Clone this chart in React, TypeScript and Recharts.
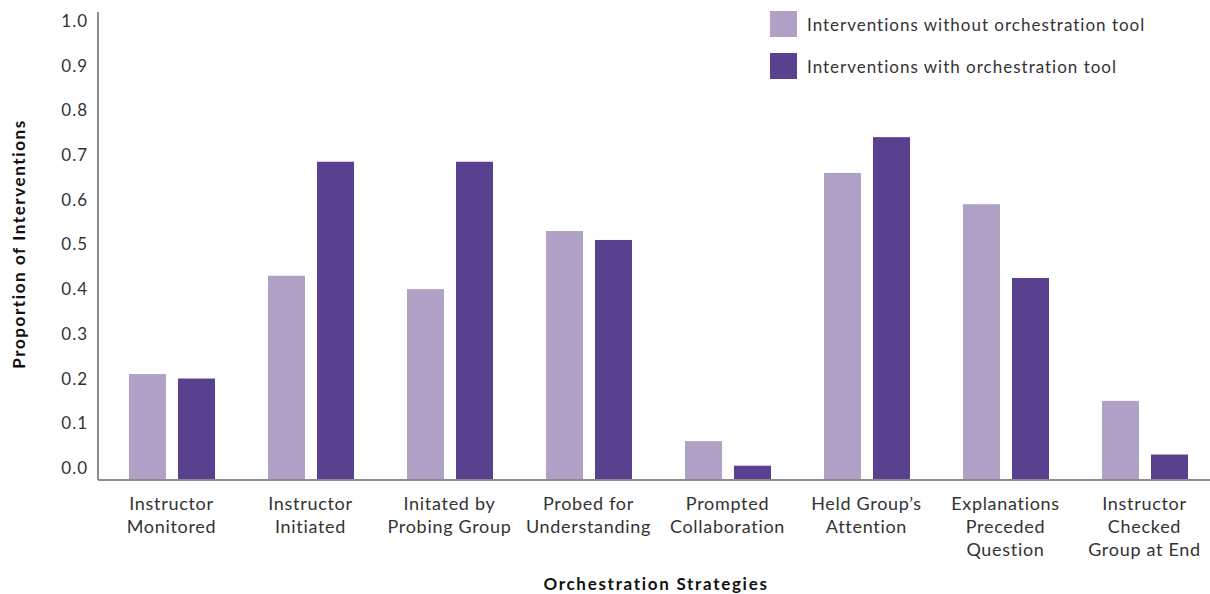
import { BarChart, Bar, XAxis, YAxis, Label } from 'recharts';

// Category labels; "\n" marks a line break on the axis
const strategies = [
  'Instructor\nMonitored',
  'Instructor\nInitiated',
  'Initated by\nProbing Group',
  'Probed for\nUnderstanding',
  'Prompted\nCollaboration',
  'Held Group’s\nAttention',
  'Explanations\nPreceded\nQuestion',
  'Instructor\nChecked\nGroup at End',
];

const withoutTool = [0.21, 0.43, 0.40, 0.53, 0.06, 0.66, 0.59, 0.15];
const withTool = [0.20, 0.685, 0.685, 0.51, 0.005, 0.74, 0.425, 0.03];

const yTicks = [0, 0.1, 0.2, 0.3, 0.4, 0.5, 0.6, 0.7, 0.8, 0.9, 1.0];

const seriesNames = [
  'Interventions without orchestration tool',
  'Interventions with orchestration tool',
];

const LIGHT = '#b0a1c7';
const DARK = '#5a418f';
const TEXT = '#333333';
const AXIS = '#8c8c8c';
const FONT = 'Lato, "Open Sans", sans-serif';

const CHART_W = 1214;
const CHART_H = 594;
const MARGIN = { top: 12, right: 0, bottom: 0, left: 38 };
const X_AXIS_H = 114;
const PLOT_BOTTOM = CHART_H - MARGIN.bottom - X_AXIS_H;

const data = strategies.map((strategy, i) => ({
  strategy,
  without: withoutTool[i],
  with: withTool[i],
}));

// bars run from their value down to the axis line, which sits a little below zero
const AxisBar = (props: any) => {
  const { x, y, width, fill, background } = props;
  const bottom = background ? background.y + background.height : PLOT_BOTTOM;
  return <rect x={x} y={y} width={width} height={Math.max(0, bottom - y)} fill={fill} />;
};

const CategoryTick = (props: any) => {
  const { x, y, payload } = props;
  const lines = String(payload.value).split('\n');
  return (
    <text x={x} y={y} textAnchor="middle" fill={TEXT} fontSize={18} letterSpacing={0.7} fontFamily={FONT}>
      {lines.map((line, i) => (
        <tspan key={i} x={x} dy={i === 0 ? 22 : 23}>
          {line}
        </tspan>
      ))}
    </text>
  );
};

const YTitle = (props: any) => {
  const { viewBox } = props;
  const cx = viewBox.x - 20;
  const cy = viewBox.y + viewBox.height / 2 - 2;
  return (
    <text
      x={cx}
      y={cy}
      transform={`rotate(-90 ${cx} ${cy})`}
      textAnchor="middle"
      dominantBaseline="central"
      fill="#111"
      fontSize={17}
      fontWeight={700}
      letterSpacing={1.6}
      fontFamily={FONT}
    >
      Proportion of Interventions
    </text>
  );
};

const SeriesLegend = () => (
  <div style={{ position: 'absolute', top: 11, left: 770, fontFamily: FONT, fontSize: 17, letterSpacing: 1, color: TEXT }}>
    {seriesNames.map((name, i) => (
      <div key={name} style={{ display: 'flex', alignItems: 'center', height: 26, marginBottom: 16 }}>
        <div style={{ width: 27, height: 26, background: i === 0 ? LIGHT : DARK, marginRight: 10 }} />
        <span>{name}</span>
      </div>
    ))}
  </div>
);

export default function App() {
  return (
    <div style={{ position: 'absolute', top: 0, left: 0, width: 1210, height: 594, overflow: 'hidden', background: '#fff' }}>
      <BarChart
        width={CHART_W}
        height={CHART_H}
        data={data}
        margin={MARGIN}
        barSize={37}
        barGap={12}
      >
        <XAxis
          dataKey="strategy"
          height={X_AXIS_H}
          interval={0}
          padding={{ left: 4, right: 0 }}
          axisLine={{ stroke: AXIS, strokeWidth: 2 }}
          tickLine={false}
          tick={<CategoryTick />}
        >
          <Label
            value="Orchestration Strategies"
            position="insideBottom"
            offset={4}
            fill="#111"
            fontSize={17}
            fontWeight={700}
            letterSpacing={1.7}
            fontFamily={FONT}
          />
        </XAxis>
        <YAxis
          width={60}
          domain={[-0.027, 1.02]}
          ticks={yTicks}
          allowDataOverflow
          axisLine={{ stroke: AXIS, strokeWidth: 2 }}
          tickLine={false}
          tickSize={8}
          tickMargin={2}
          tickFormatter={(v: number) => v.toFixed(1)}
          tick={{ fill: TEXT, fontSize: 17, letterSpacing: 1, fontFamily: FONT }}
        >
          <Label content={<YTitle />} />
        </YAxis>
        <Bar dataKey="without" name={seriesNames[0]} fill={LIGHT} shape={<AxisBar />} isAnimationActive={false} />
        <Bar dataKey="with" name={seriesNames[1]} fill={DARK} shape={<AxisBar />} isAnimationActive={false} />
      </BarChart>
      <SeriesLegend />
    </div>
  );
}
